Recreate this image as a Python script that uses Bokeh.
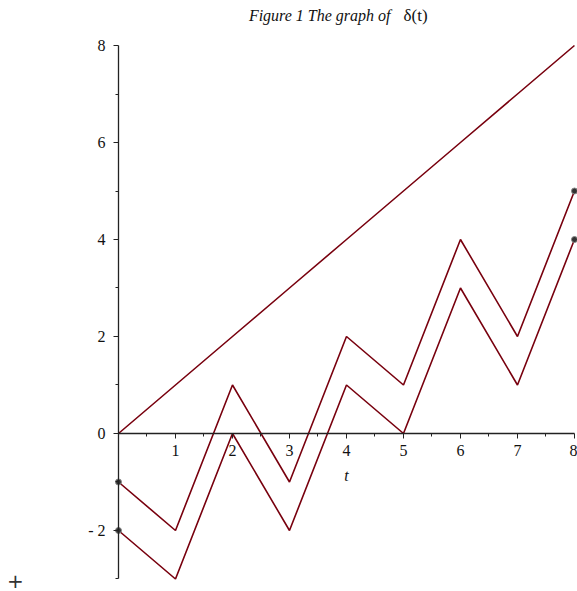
from bokeh.plotting import figure
from bokeh.models import LinearAxis, FixedTicker, Range1d, Label, ColumnDataSource
from bokeh.embed import file_html
from bokeh.resources import INLINE

# data
t = [0, 1, 2, 3, 4, 5, 6, 7, 8]
line_y = [0, 1, 2, 3, 4, 5, 6, 7, 8]
zig_upper = [-1, -2, 1, -1, 2, 1, 4, 2, 5]
zig_lower = [-2, -3, 0, -2, 1, 0, 3, 1, 4]
x_ticks = [1, 2, 3, 4, 5, 6, 7, 8]
y_ticks = [-2, 0, 2, 4, 6, 8]
x_minor = [0.5, 1.5, 2.5, 3.5, 4.5, 5.5, 6.5, 7.5]
y_minor = [-3, -1, 1, 3, 5, 7]

LINE = "#78000E"
SERIF = "Liberation Serif"
W, H = 577, 591

p = figure(width=W, height=H, output_backend="svg", toolbar_location=None,
           x_range=Range1d(-2.070, 8.053), y_range=Range1d(-3.258, 8.928),
           x_axis_location=None, y_axis_location=None,
           min_border=0, min_border_left=0, min_border_right=0,
           min_border_top=0, min_border_bottom=0)
p.xgrid.visible = False
p.ygrid.visible = False
p.outline_line_color = None
p.background_fill_color = "white"

# axes crossing at origin
xaxis = LinearAxis(fixed_location=0, bounds=(0, 8),
                   ticker=FixedTicker(ticks=x_ticks, minor_ticks=x_minor),
                   axis_label="t")
xaxis.axis_line_color = "#222222"
xaxis.axis_line_width = 1.3
xaxis.major_tick_line_color = "#222222"
xaxis.minor_tick_line_color = "#222222"
xaxis.major_tick_in = 0
xaxis.major_tick_out = 5
xaxis.minor_tick_in = 0
xaxis.minor_tick_out = 3
xaxis.major_label_text_font = SERIF
xaxis.major_label_text_font_size = "16px"
xaxis.major_label_text_color = "#111111"
xaxis.major_label_standoff = 7
xaxis.axis_label_text_font = SERIF
xaxis.axis_label_text_font_style = "italic"
xaxis.axis_label_text_font_size = "16px"
xaxis.axis_label_text_color = "#111111"
xaxis.axis_label_standoff = 7
p.add_layout(xaxis, "below")

yaxis = LinearAxis(fixed_location=0, bounds=(-3, 8),
                   ticker=FixedTicker(ticks=y_ticks, minor_ticks=y_minor))
yaxis.major_label_overrides = {-2: "- 2"}
yaxis.axis_line_color = "#222222"
yaxis.axis_line_width = 1.3
yaxis.major_tick_line_color = "#222222"
yaxis.minor_tick_line_color = "#222222"
yaxis.major_tick_in = 0
yaxis.major_tick_out = 5
yaxis.minor_tick_in = 0
yaxis.minor_tick_out = 3
yaxis.major_label_text_font = SERIF
yaxis.major_label_text_font_size = "16px"
yaxis.major_label_text_color = "#111111"
yaxis.major_label_standoff = 8
p.add_layout(yaxis, "left")

# lines
p.line(t, line_y, line_color=LINE, line_width=1.6)
p.line(t, zig_upper, line_color=LINE, line_width=1.6)
p.line(t, zig_lower, line_color=LINE, line_width=1.6)

# endpoint dots
src = ColumnDataSource(dict(
    x=[t[0], t[0], t[-1], t[-1]],
    y=[zig_upper[0], zig_lower[0], zig_upper[-1], zig_lower[-1]]))
p.scatter("x", "y", source=src, size=6, fill_color="#333333",
          line_color="#888888", line_width=1)

# title
p.add_layout(Label(x=390, y=H - 15, x_units="screen", y_units="screen",
                   text="Figure 1 The graph of", text_font=SERIF,
                   text_font_style="italic", text_font_size="16px",
                   text_align="right", text_baseline="middle",
                   text_color="#111111"))
p.add_layout(Label(x=403, y=H - 15, x_units="screen", y_units="screen",
                   text="δ(t)", text_font=SERIF,
                   text_font_size="17px",
                   text_align="left", text_baseline="middle",
                   text_color="#111111"))

# plus mark at lower left
p.add_layout(Label(x=15, y=H - 580, x_units="screen", y_units="screen",
                   text="+", text_font="DejaVu Sans", text_font_size="20px",
                   text_align="center", text_baseline="middle",
                   text_color="#333333"))

open("out.html", "w").write(file_html(p, INLINE))
